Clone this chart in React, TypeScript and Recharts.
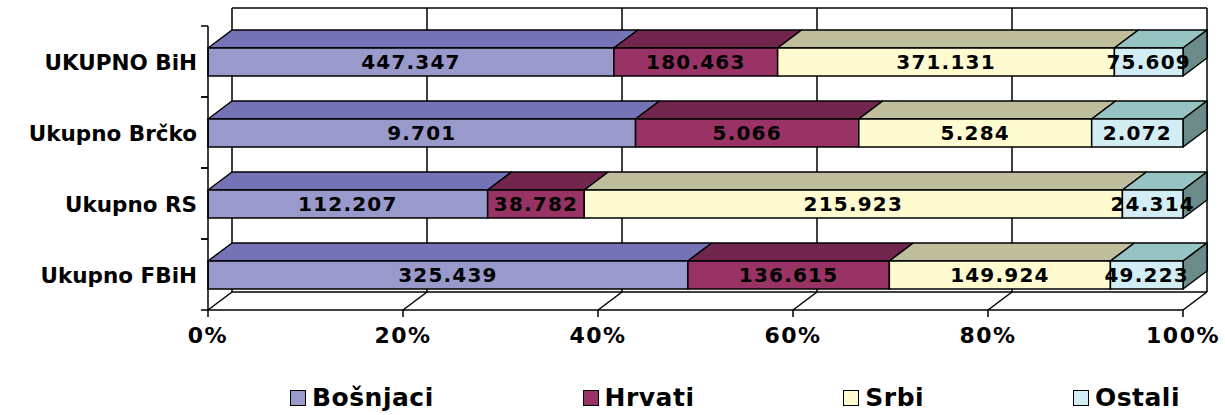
import React from 'react';
import { BarChart, Bar, XAxis, YAxis, CartesianGrid, LabelList } from 'recharts';

const categories = ['UKUPNO BiH', 'Ukupno Brčko', 'Ukupno RS', 'Ukupno FBiH'];
const bosnjaci = [447347, 9701, 112207, 325439];
const hrvati = [180463, 5066, 38782, 136615];
const srbi = [371131, 5284, 215923, 149924];
const ostali = [75609, 2072, 24314, 49223];
const pctTicks = [0, 0.2, 0.4, 0.6, 0.8, 1];

const series = [
  { key: 'bosnjaci', name: 'Bošnjaci', front: '#9999CC', top: '#7373B5', side: '#5c5c99' },
  { key: 'hrvati', name: 'Hrvati', front: '#993366', top: '#73264D', side: '#5c1f3d' },
  { key: 'srbi', name: 'Srbi', front: '#FFFBD0', top: '#C0BF9D', side: '#9a9a7a' },
  { key: 'ostali', name: 'Ostali', front: '#D2EEF4', top: '#97C3C2', side: '#6A8B87' },
];

const data = categories.map((name, i) => ({
  name,
  bosnjaci: bosnjaci[i],
  hrvati: hrvati[i],
  srbi: srbi[i],
  ostali: ostali[i],
}));

// depth of the fake 3d
const DX = 24;
const DY = 18;
const PLOT_LEFT = 208;
const HALF_BAND = 35.5;
const FONT = '"DejaVu Sans", Verdana, sans-serif';
const LINE = { stroke: '#000', strokeWidth: 1.5 };

const fmtNum = (v: number) => String(v).replace(/\B(?=(\d{3})+(?!\d))/g, '.');
const fmtPct = (v: number) => `${Math.round(v * 100)}%`;
const pts = (a: number[][]) => a.map((p) => p.join(',')).join(' ');

function Box3D(props: any) {
  const { x, y, width, height, fill, topFill, sideFill, withSide } = props;
  if (width == null || height == null) return null;
  return (
    <g>
      <polygon
        points={pts([[x, y], [x + DX, y - DY], [x + width + DX, y - DY], [x + width, y]])}
        fill={topFill}
        {...LINE}
        strokeLinejoin="round"
      />
      {withSide && (
        <polygon
          points={pts([[x + width, y], [x + width + DX, y - DY], [x + width + DX, y + height - DY], [x + width, y + height]])}
          fill={sideFill}
          {...LINE}
          strokeLinejoin="round"
        />
      )}
      <rect x={x} y={y} width={width} height={height} fill={fill} {...LINE} />
    </g>
  );
}

function wallLine(props: any) {
  const { x1, y1, y2, index } = props;
  const w = props.width ?? props.offset?.width ?? 975;
  return (
    <g key={`w-${index}`}>
      <line x1={x1 + DX} y1={y1 - DY} x2={x1 + DX} y2={y2 - DY} {...LINE} />
      <line x1={x1} y1={y2} x2={x1 + DX} y2={y2 - DY} {...LINE} />
      {index === 0 && (
        <>
          <line x1={x1 + DX} y1={y1 - DY} x2={x1 + DX + w} y2={y1 - DY} {...LINE} />
          <line x1={x1 + DX} y1={y2 - DY} x2={x1 + DX + w} y2={y2 - DY} {...LINE} />
        </>
      )}
    </g>
  );
}

function XTick(props: any) {
  const { x, y, payload } = props;
  return (
    <text x={x} y={y} dy={24} textAnchor="middle" fill="#000" fontFamily={FONT} fontWeight="bold" fontSize={22} letterSpacing={1.5}>
      {fmtPct(payload.value)}
    </text>
  );
}

function YTick(props: any) {
  const { y, payload } = props;
  return (
    <g>
      <line x1={PLOT_LEFT - 7} y1={y - HALF_BAND} x2={PLOT_LEFT} y2={y - HALF_BAND} {...LINE} />
      <line x1={PLOT_LEFT - 7} y1={y + HALF_BAND} x2={PLOT_LEFT} y2={y + HALF_BAND} {...LINE} />
      <text x={PLOT_LEFT - 11} y={y} dy={8} textAnchor="end" fill="#000" fontFamily={FONT} fontWeight="bold" fontSize={21.5}>
        {payload.value}
      </text>
    </g>
  );
}

function ValueLabel(props: any) {
  const vb = props.viewBox ?? props;
  const { x, y, width, height } = vb;
  return (
    <text
      x={x + width / 2}
      y={y + height / 2}
      dy={7}
      textAnchor="middle"
      fill="#000"
      fontFamily={FONT}
      fontWeight="bold"
      fontSize={20}
      letterSpacing={1.2}
    >
      {fmtNum(Number(props.value))}
    </text>
  );
}

export default function App() {
  return (
    <div style={{ position: 'absolute', left: 0, top: 0, width: 1225, height: 415, background: '#fff' }}>
      <BarChart
        width={1225}
        height={415}
        data={data}
        layout="vertical"
        stackOffset="expand"
        barSize={28}
        margin={{ top: 26, right: 42, left: 0, bottom: 75 }}
      >
        <CartesianGrid horizontal={false} vertical={wallLine} />
        <XAxis
          type="number"
          domain={[0, 1]}
          ticks={pctTicks}
          tick={<XTick />}
          tickSize={7}
          tickMargin={2}
          height={30}
          axisLine={LINE}
          tickLine={LINE}
        />
        <YAxis
          type="category"
          dataKey="name"
          width={208}
          tick={<YTick />}
          tickLine={false}
          axisLine={LINE}
        />
        {series.map((s, i) => (
          <Bar
            key={s.key}
            dataKey={s.key}
            name={s.name}
            stackId="a"
            fill={s.front}
            isAnimationActive={false}
            shape={(p: any) => (
              <Box3D {...p} fill={s.front} topFill={s.top} sideFill={s.side} withSide={i === series.length - 1} />
            )}
          >
            <LabelList dataKey={s.key} position="center" content={<ValueLabel />} />
          </Bar>
        ))}
      </BarChart>
      <div
        style={{
          position: 'absolute',
          left: 290,
          width: 890,
          top: 383,
          display: 'flex',
          justifyContent: 'space-between',
          alignItems: 'center',
          fontFamily: FONT,
          fontWeight: 'bold',
          fontSize: 25,
          letterSpacing: 0.5,
          color: '#000',
        }}
      >
        {series.map((s) => (
          <div key={s.key} style={{ display: 'flex', alignItems: 'center' }}>
            <span
              style={{
                display: 'inline-block',
                width: 14,
                height: 14,
                background: s.front,
                border: '1.5px solid #000',
                marginRight: 6,
              }}
            />
            <span style={{ lineHeight: '30px' }}>{s.name}</span>
          </div>
        ))}
      </div>
    </div>
  );
}
